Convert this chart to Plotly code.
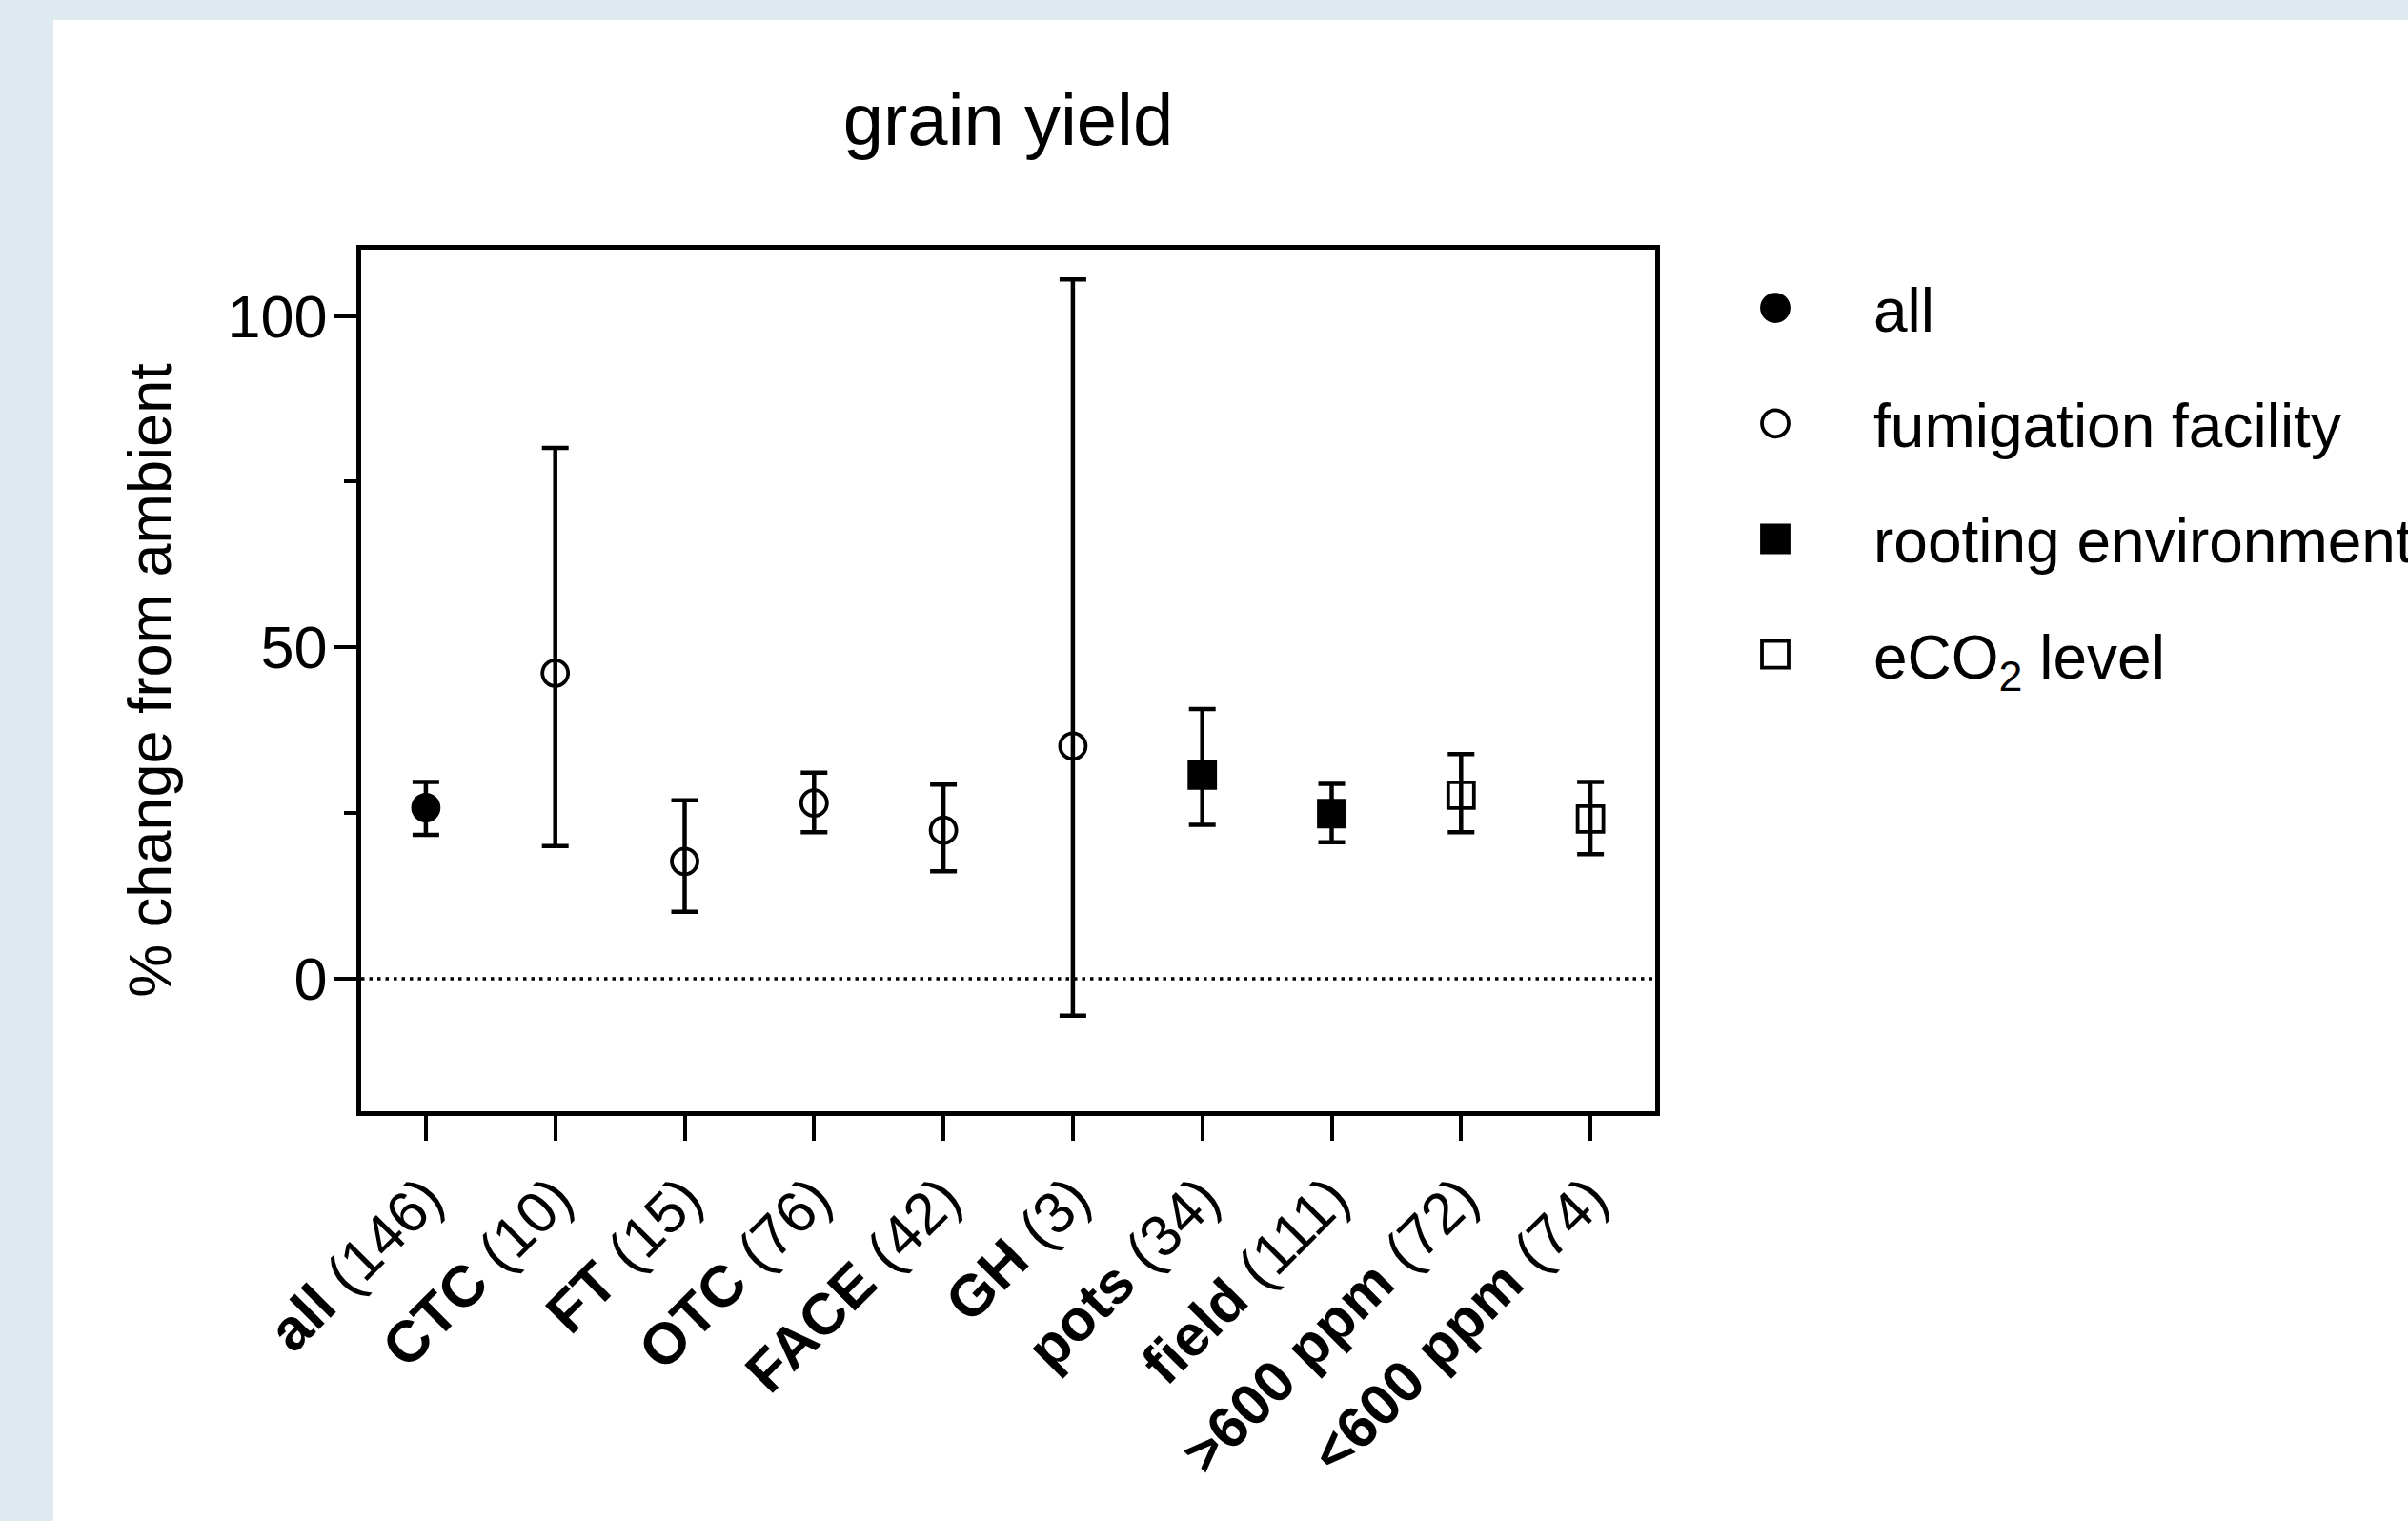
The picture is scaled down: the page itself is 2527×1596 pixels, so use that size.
import plotly.graph_objects as go

# ---- data ----
categories = ["all", "CTC", "FT", "OTC", "FACE", "GH", "pots", "field", "&gt;600 ppm", "&lt;600 ppm"]
counts = [146, 10, 15, 76, 42, 3, 34, 111, 72, 74]
groups = ["all", "fumigation facility", "fumigation facility", "fumigation facility",
          "fumigation facility", "fumigation facility", "rooting environment",
          "rooting environment", "eCO2 level", "eCO2 level"]
mean_change = [25.8, 46.1, 17.7, 26.5, 22.4, 35.1, 30.7, 24.9, 27.7, 24.1]
ci_upper = [29.7, 80.1, 26.9, 31.1, 29.3, 105.5, 40.7, 29.4, 33.9, 29.7]
ci_lower = [21.7, 20.0, 10.1, 22.1, 16.2, -5.6, 23.2, 20.6, 22.1, 18.8]

group_order = ["all", "fumigation facility", "rooting environment", "eCO2 level"]
group_labels = {"all": "all", "fumigation facility": "fumigation facility",
                "rooting environment": "rooting environment",
                "eCO2 level": "eCO<sub>2</sub> level"}
group_symbols = {"all": "circle", "fumigation facility": "circle-open",
                 "rooting environment": "square", "eCO2 level": "square-open"}

tick_labels = [f"<b>{c}</b> ({n})" for c, n in zip(categories, counts)]

FONT = "Arial, 'Liberation Sans', Helvetica, sans-serif"
W, H = 2527, 1596
L, R, T, B = 379, 2527 - 1737, 262, 1596 - 1166

fig = go.Figure()

# white panel on the light-blue page (added first so it sits underneath)
fig.add_shape(type="rect", xref="paper", yref="paper",
              x0=(56 - L) / (W - L - R), x1=3, y0=-2,
              y1=(H - B - 21) / (H - T - B),
              fillcolor="white", line=dict(width=0), layer="below")

for g in group_order:
    idx = [i for i, gg in enumerate(groups) if gg == g]
    x = [tick_labels[i] for i in idx]
    y = [mean_change[i] for i in idx]
    up = [ci_upper[i] - mean_change[i] for i in idx]
    dn = [mean_change[i] - ci_lower[i] for i in idx]
    sym = group_symbols[g]
    fig.add_trace(go.Scatter(
        x=x, y=y, mode="markers", name=group_labels[g], legendgroup=g,
        marker=dict(symbol=sym, size=27, color="black",
                    line=dict(color="black", width=3.8)),
        error_y=dict(type="data", symmetric=False, array=up, arrayminus=dn,
                     color="black", thickness=4.5, width=14),
        cliponaxis=False,
    ))

# zero reference line
fig.add_hline(y=0, line=dict(color="black", width=3.5, dash="3.5px,5px"), layer="above")

fig.update_layout(
    width=W, height=H,
    paper_bgcolor="#DEEAF0", plot_bgcolor="white",
    margin=dict(l=L, r=R, t=T, b=B, autoexpand=False),
    font=dict(family=FONT, size=63, color="black"),
    title=dict(text="grain yield", x=0.5, xref="paper", xanchor="center",
               y=1 - 125 / H, yref="container", yanchor="middle",
               font=dict(size=76, family=FONT, color="black")),
    showlegend=True,
    legend=dict(x=(1760 - L) / (W - L - R), xanchor="left",
                y=(H - B - 275) / (H - T - B), yanchor="top",
                itemwidth=196, tracegroupgap=35, traceorder="grouped",
                font=dict(size=64, family=FONT, color="black"),
                bgcolor="rgba(0,0,0,0)", borderwidth=0),
)

fig.update_xaxes(
    type="category", categoryorder="array", categoryarray=tick_labels,
    range=[-0.5, len(tick_labels) - 0.5],
    showline=True, linecolor="black", linewidth=4.5, mirror=True,
    ticks="outside", ticklen=26, tickwidth=4, tickcolor="black",
    tickangle=-45, tickfont=dict(size=61, family=FONT, color="black"),
    showgrid=False, zeroline=False,
)
fig.update_yaxes(
    range=[-20, 110], tickvals=[0, 50, 100],
    showline=True, linecolor="black", linewidth=4.5, mirror=True,
    ticks="outside", ticklen=24, tickwidth=4, tickcolor="black",
    ticklabelstandoff=-6,
    tickfont=dict(size=63, family=FONT, color="black"),
    minor=dict(tickvals=[25, 75], ticks="outside", ticklen=13, tickwidth=4,
               tickcolor="black"),
    showgrid=False, zeroline=False,
    title=dict(text="% change from ambient", standoff=40,
               font=dict(size=63, family=FONT, color="black")),
)

post = """
var gd = document.getElementById('{plot_id}');
gd.querySelectorAll('.legend path.scatterpts').forEach(function(p){
  var t = p.getAttribute('transform') || '';
  p.setAttribute('transform', t + ' scale(1.75)');
  p.style.vectorEffect = 'non-scaling-stroke';
});
"""

fig.write_html("out.html", post_script=post)
